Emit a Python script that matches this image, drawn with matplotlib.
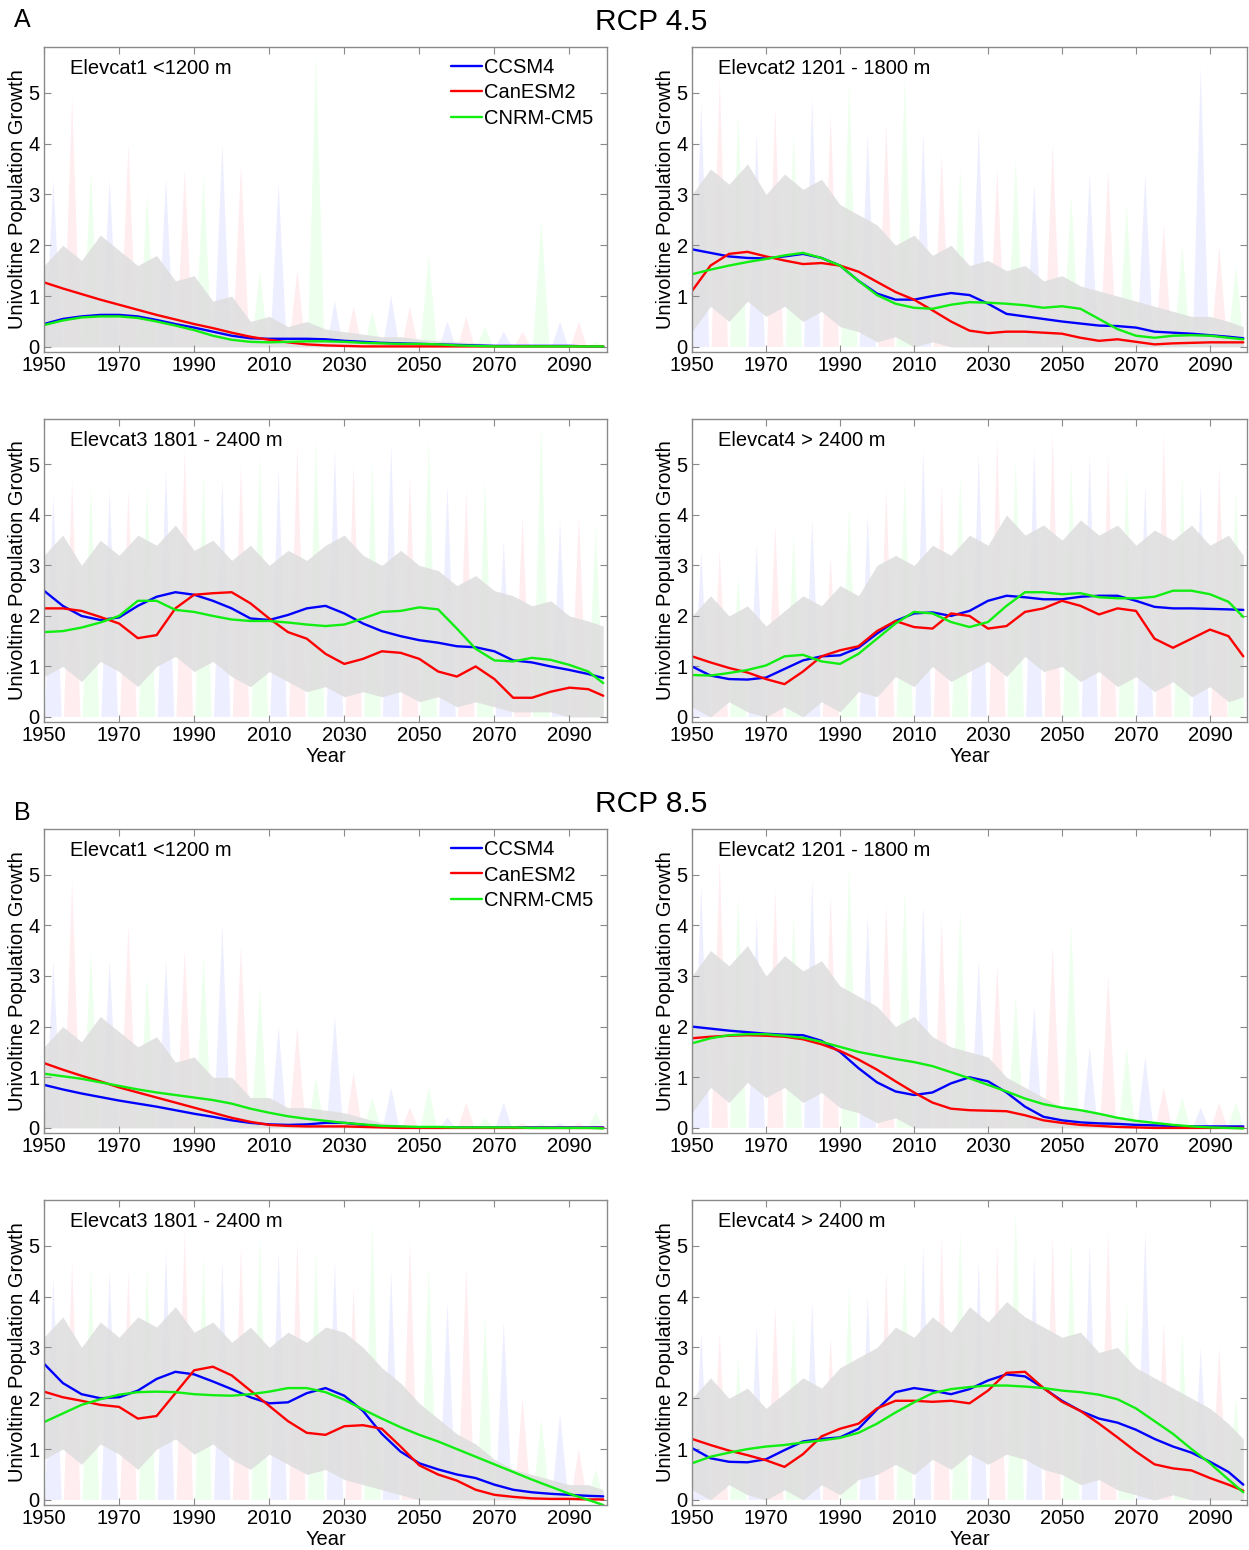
"""Univoltine population growth by elevation class, RCP 4.5 and RCP 8.5."""

import matplotlib

matplotlib.use("Agg")

import matplotlib.pyplot as plt
import numpy as np

plt.rcParams["font.family"] = ["Liberation Sans", "DejaVu Sans"]

# x positions of the smoothed curves / band edges (5-year steps, last year 2099)
years = list(range(1950, 2100, 5)) + [2099]

models = ["CCSM4", "CanESM2", "CNRM-CM5"]
elev_labels = ["Elevcat1 <1200 m", "Elevcat2 1201 - 1800 m",
               "Elevcat3 1801 - 2400 m", "Elevcat4 > 2400 m"]

# ---------------- RCP 4.5 ----------------
a1_ccsm4 = [0.45, 0.55, 0.60, 0.63, 0.63, 0.60, 0.53, 0.45, 0.38, 0.30, 0.22, 0.17, 0.16, 0.16, 0.16, 0.15,
            0.12, 0.10, 0.08, 0.07, 0.06, 0.05, 0.04, 0.03, 0.02, 0.02, 0.02, 0.02, 0.02, 0.01, 0.01]
a1_canesm2 = [1.27, 1.15, 1.04, 0.93, 0.83, 0.73, 0.63, 0.54, 0.45, 0.37, 0.28, 0.20, 0.14, 0.09, 0.05, 0.03,
              0.02, 0.01, 0.01, 0.01, 0.01, 0.01, 0.01, 0.01, 0.01, 0.01, 0.01, 0.01, 0.01, 0.01, 0.01]
a1_cnrm = [0.43, 0.52, 0.58, 0.60, 0.60, 0.57, 0.50, 0.42, 0.33, 0.22, 0.14, 0.10, 0.09, 0.10, 0.11, 0.11,
           0.10, 0.08, 0.07, 0.06, 0.06, 0.05, 0.03, 0.02, 0.01, 0.01, 0.01, 0.01, 0.01, 0.01, 0.01]
a1_hi = [1.6, 2.0, 1.7, 2.2, 1.9, 1.6, 1.8, 1.3, 1.4, 0.9, 1.0, 0.5, 0.6, 0.4, 0.5, 0.35,
         0.3, 0.25, 0.2, 0.2, 0.15, 0.12, 0.1, 0.08, 0.05, 0.05, 0.04, 0.03, 0.03, 0.02, 0.02]
a1_lo = [0.0] * 31
a1_peak = [3.3, 4.9, 3.5, 3.3, 4.0, 3.0, 3.3, 3.5, 3.4, 4.0, 3.6, 1.5, 3.2, 1.5, 5.8,
           0.9, 0.8, 0.7, 1.0, 0.8, 1.8, 0.5, 0.6, 0.4, 0.3, 0.3, 2.5, 0.5, 0.5, 0.1]

a2_ccsm4 = [1.92, 1.85, 1.78, 1.75, 1.74, 1.78, 1.83, 1.75, 1.60, 1.30, 1.05, 0.93, 0.93, 1.00, 1.06, 1.02,
            0.85, 0.65, 0.60, 0.55, 0.50, 0.46, 0.42, 0.41, 0.38, 0.30, 0.28, 0.26, 0.23, 0.20, 0.17]
a2_canesm2 = [1.10, 1.60, 1.83, 1.87, 1.78, 1.70, 1.63, 1.65, 1.60, 1.48, 1.28, 1.08, 0.93, 0.72, 0.50, 0.32,
              0.27, 0.30, 0.30, 0.28, 0.26, 0.18, 0.12, 0.15, 0.10, 0.05, 0.07, 0.08, 0.09, 0.09, 0.09]
a2_cnrm = [1.43, 1.52, 1.60, 1.67, 1.73, 1.80, 1.85, 1.75, 1.60, 1.30, 1.02, 0.85, 0.77, 0.75, 0.83, 0.88,
           0.87, 0.85, 0.82, 0.77, 0.80, 0.75, 0.55, 0.35, 0.22, 0.18, 0.22, 0.23, 0.22, 0.18, 0.15]
a2_hi = [3.0, 3.5, 3.2, 3.6, 3.0, 3.4, 3.1, 3.3, 2.8, 2.6, 2.4, 2.0, 2.2, 1.8, 2.0, 1.6,
         1.7, 1.5, 1.6, 1.3, 1.4, 1.2, 1.1, 1.0, 0.9, 0.8, 0.7, 0.6, 0.6, 0.5, 0.4]
a2_lo = [0.3, 0.8, 0.5, 0.9, 0.6, 0.8, 0.5, 0.7, 0.4, 0.3, 0.1, 0.2, 0.0, 0.1, 0.0, 0.0,
         0.0, 0.0, 0.0, 0.0, 0.0, 0.0, 0.0, 0.0, 0.0, 0.0, 0.0, 0.0, 0.0, 0.0, 0.0]
a2_peak = [4.8, 5.3, 4.6, 4.2, 4.7, 4.2, 4.9, 4.6, 5.2, 4.2, 4.4, 5.3, 4.2, 3.8, 3.5,
           4.3, 3.5, 3.7, 3.2, 4.0, 3.0, 3.4, 3.5, 2.8, 3.4, 2.4, 2.0, 5.5, 2.0, 1.6]

a3_ccsm4 = [2.50, 2.20, 2.00, 1.92, 1.97, 2.20, 2.38, 2.47, 2.42, 2.30, 2.15, 1.95, 1.92, 2.02, 2.15, 2.20,
            2.05, 1.85, 1.70, 1.60, 1.52, 1.47, 1.40, 1.38, 1.30, 1.12, 1.08, 1.00, 0.93, 0.85, 0.77]
a3_canesm2 = [2.15, 2.15, 2.10, 1.98, 1.85, 1.56, 1.62, 2.15, 2.42, 2.45, 2.47, 2.25, 1.95, 1.68, 1.55, 1.25,
              1.05, 1.15, 1.30, 1.27, 1.15, 0.90, 0.80, 1.00, 0.75, 0.38, 0.38, 0.50, 0.58, 0.55, 0.42]
a3_cnrm = [1.68, 1.70, 1.77, 1.87, 2.00, 2.30, 2.30, 2.12, 2.08, 2.00, 1.93, 1.90, 1.90, 1.87, 1.83, 1.80,
           1.83, 1.95, 2.08, 2.10, 2.17, 2.13, 1.75, 1.35, 1.12, 1.10, 1.17, 1.13, 1.03, 0.90, 0.67]
a3_hi = [3.2, 3.6, 3.0, 3.5, 3.2, 3.6, 3.4, 3.8, 3.3, 3.5, 3.1, 3.4, 3.0, 3.3, 3.1, 3.4,
         3.6, 3.2, 3.0, 3.3, 3.0, 2.9, 2.6, 2.8, 2.5, 2.4, 2.2, 2.3, 2.0, 1.9, 1.8]
a3_lo = [0.8, 1.0, 0.7, 1.1, 0.9, 0.6, 1.0, 1.2, 0.9, 1.1, 0.8, 0.6, 0.9, 0.7, 0.5, 0.6,
         0.4, 0.5, 0.4, 0.5, 0.3, 0.4, 0.2, 0.3, 0.2, 0.1, 0.1, 0.1, 0.0, 0.0, 0.0]
a3_peak = [4.4, 4.7, 4.6, 4.5, 4.5, 4.6, 4.9, 5.3, 4.8, 4.7, 5.0, 5.2, 4.9, 5.4, 5.5,
           5.3, 5.0, 5.1, 5.4, 4.8, 5.5, 4.6, 4.5, 4.7, 3.5, 4.0, 5.8, 3.9, 4.0, 3.8]

a4_ccsm4 = [1.00, 0.82, 0.75, 0.74, 0.78, 0.95, 1.12, 1.20, 1.22, 1.37, 1.65, 1.90, 2.05, 2.07, 2.00, 2.10,
            2.30, 2.40, 2.37, 2.33, 2.33, 2.38, 2.40, 2.40, 2.30, 2.18, 2.15, 2.15, 2.14, 2.13, 2.12]
a4_canesm2 = [1.20, 1.08, 0.97, 0.88, 0.75, 0.65, 0.90, 1.20, 1.32, 1.40, 1.70, 1.90, 1.78, 1.75, 2.05, 2.00,
              1.75, 1.80, 2.08, 2.15, 2.30, 2.20, 2.03, 2.15, 2.10, 1.55, 1.37, 1.55, 1.73, 1.60, 1.20]
a4_cnrm = [0.83, 0.82, 0.87, 0.93, 1.02, 1.20, 1.23, 1.10, 1.05, 1.25, 1.55, 1.85, 2.08, 2.05, 1.88, 1.78,
           1.88, 2.20, 2.47, 2.47, 2.43, 2.45, 2.37, 2.35, 2.35, 2.38, 2.50, 2.50, 2.43, 2.28, 1.98]
a4_hi = [2.0, 2.4, 2.0, 2.2, 1.8, 2.1, 2.4, 2.2, 2.6, 2.4, 3.0, 3.2, 3.0, 3.4, 3.2, 3.6,
         3.4, 4.0, 3.6, 3.8, 3.5, 3.9, 3.6, 3.8, 3.4, 3.7, 3.5, 3.8, 3.4, 3.6, 3.2]
a4_lo = [0.2, 0.0, 0.3, 0.1, 0.0, 0.2, 0.0, 0.3, 0.1, 0.5, 0.4, 0.8, 0.6, 1.0, 0.7, 0.9,
         1.1, 0.8, 1.2, 0.9, 1.0, 0.7, 0.9, 0.6, 0.8, 0.5, 0.7, 0.4, 0.6, 0.3, 0.4]
a4_peak = [3.3, 3.3, 2.8, 3.4, 3.8, 3.6, 3.9, 3.2, 4.2, 4.0, 4.5, 4.7, 5.3, 4.6, 4.8,
           5.2, 5.5, 5.1, 5.3, 5.6, 5.0, 5.2, 5.2, 4.9, 4.6, 5.6, 4.8, 4.6, 5.0, 4.5]

# ---------------- RCP 8.5 ----------------
b1_ccsm4 = [0.85, 0.76, 0.68, 0.61, 0.54, 0.48, 0.42, 0.35, 0.28, 0.22, 0.15, 0.10, 0.07, 0.06, 0.07, 0.10,
            0.10, 0.06, 0.03, 0.02, 0.01, 0.01, 0.01, 0.01, 0.01, 0.01, 0.01, 0.01, 0.01, 0.01, 0.01]
b1_canesm2 = [1.28, 1.15, 1.03, 0.92, 0.80, 0.70, 0.60, 0.50, 0.40, 0.30, 0.20, 0.12, 0.06, 0.04, 0.03, 0.03,
              0.03, 0.02, 0.01, 0.00, 0.00, 0.00, 0.00, 0.00, 0.00, 0.00, 0.00, 0.00, 0.00, 0.00, 0.00]
b1_cnrm = [1.07, 1.02, 0.97, 0.90, 0.83, 0.76, 0.70, 0.65, 0.60, 0.55, 0.48, 0.38, 0.30, 0.23, 0.18, 0.14,
           0.10, 0.07, 0.04, 0.03, 0.02, 0.02, 0.01, 0.01, 0.01, 0.01, 0.00, 0.00, 0.00, 0.00, -0.01]
b1_hi = [1.6, 2.0, 1.7, 2.2, 1.9, 1.6, 1.8, 1.3, 1.4, 1.0, 1.0, 0.6, 0.6, 0.4, 0.4, 0.35,
         0.3, 0.2, 0.1, 0.06, 0.04, 0.03, 0.02, 0.02, 0.01, 0.01, 0.01, 0.01, 0.01, 0.01, 0.01]
b1_lo = [0.0] * 31
b1_peak = [3.3, 4.9, 3.5, 3.3, 4.0, 3.0, 3.3, 3.5, 3.4, 4.0, 3.6, 2.8, 2.0, 2.0, 1.0,
           2.2, 1.1, 0.6, 0.8, 0.4, 0.8, 0.2, 0.5, 0.2, 0.5, 0.1, 0.1, 0.1, 0.1, 0.3]

b2_ccsm4 = [2.00, 1.96, 1.92, 1.89, 1.86, 1.84, 1.83, 1.72, 1.50, 1.18, 0.90, 0.72, 0.65, 0.70, 0.88, 1.00,
            0.92, 0.70, 0.42, 0.22, 0.15, 0.11, 0.09, 0.08, 0.06, 0.05, 0.04, 0.03, 0.03, 0.03, 0.03]
b2_canesm2 = [1.77, 1.80, 1.82, 1.83, 1.82, 1.80, 1.75, 1.65, 1.52, 1.35, 1.15, 0.92, 0.70, 0.50, 0.38, 0.35,
              0.34, 0.33, 0.25, 0.15, 0.10, 0.06, 0.04, 0.02, 0.01, 0.00, 0.00, 0.00, 0.00, 0.00, 0.00]
b2_cnrm = [1.67, 1.77, 1.83, 1.85, 1.85, 1.82, 1.78, 1.70, 1.60, 1.50, 1.43, 1.36, 1.30, 1.22, 1.10, 0.98,
           0.85, 0.72, 0.58, 0.47, 0.40, 0.35, 0.28, 0.20, 0.14, 0.10, 0.06, 0.03, 0.01, 0.00, -0.01]
b2_hi = [3.0, 3.5, 3.2, 3.6, 3.0, 3.4, 3.1, 3.3, 2.8, 2.6, 2.4, 2.0, 2.2, 1.8, 1.6, 1.5,
         1.4, 1.0, 0.8, 0.6, 0.4, 0.35, 0.3, 0.2, 0.15, 0.1, 0.08, 0.06, 0.05, 0.04, 0.03]
b2_lo = [0.3, 0.8, 0.5, 0.9, 0.6, 0.8, 0.5, 0.7, 0.4, 0.3, 0.1, 0.2, 0.0, 0.0, 0.0, 0.0,
         0.0, 0.0, 0.0, 0.0, 0.0, 0.0, 0.0, 0.0, 0.0, 0.0, 0.0, 0.0, 0.0, 0.0, 0.0]
b2_peak = [4.8, 5.3, 4.6, 4.2, 4.7, 4.2, 4.9, 4.6, 5.2, 4.2, 4.4, 4.7, 4.4, 4.1, 4.3,
           3.3, 3.2, 2.6, 2.4, 3.6, 4.0, 1.6, 3.0, 1.6, 1.4, 0.8, 0.6, 0.4, 0.5, 0.5]

b3_ccsm4 = [2.68, 2.30, 2.08, 2.00, 2.02, 2.15, 2.38, 2.52, 2.47, 2.33, 2.18, 2.02, 1.90, 1.92, 2.10, 2.20,
            2.05, 1.75, 1.30, 0.95, 0.72, 0.60, 0.50, 0.43, 0.30, 0.20, 0.15, 0.12, 0.10, 0.08, 0.07]
b3_canesm2 = [2.13, 2.02, 1.95, 1.87, 1.83, 1.60, 1.65, 2.10, 2.55, 2.62, 2.45, 2.15, 1.85, 1.55, 1.32, 1.28,
              1.45, 1.47, 1.40, 1.05, 0.68, 0.50, 0.38, 0.20, 0.10, 0.06, 0.03, 0.02, 0.02, 0.01, 0.01]
b3_cnrm = [1.53, 1.70, 1.87, 1.98, 2.07, 2.12, 2.13, 2.12, 2.08, 2.06, 2.05, 2.08, 2.13, 2.20, 2.20, 2.12,
           1.97, 1.78, 1.60, 1.43, 1.28, 1.15, 1.00, 0.85, 0.70, 0.55, 0.40, 0.26, 0.12, 0.00, -0.10]
b3_hi = [3.2, 3.6, 3.0, 3.5, 3.2, 3.6, 3.4, 3.8, 3.3, 3.5, 3.1, 3.4, 3.0, 3.3, 3.1, 3.4,
         3.3, 3.0, 2.6, 2.3, 1.9, 1.6, 1.3, 1.1, 0.8, 0.6, 0.5, 0.4, 0.3, 0.3, 0.2]
b3_lo = [0.8, 1.0, 0.7, 1.1, 0.9, 0.6, 1.0, 1.2, 0.9, 1.1, 0.8, 0.6, 0.9, 0.7, 0.5, 0.6,
         0.4, 0.3, 0.2, 0.1, 0.0, 0.0, 0.0, 0.0, 0.0, 0.0, 0.0, 0.0, 0.0, 0.0, 0.0]
b3_peak = [4.4, 4.7, 4.6, 4.5, 4.5, 4.6, 4.9, 5.3, 4.8, 4.7, 5.0, 5.2, 4.9, 5.1, 4.9,
           4.7, 4.2, 5.5, 4.5, 5.1, 4.6, 3.9, 4.6, 3.6, 3.5, 2.0, 1.6, 1.7, 1.0, 0.6]

b4_ccsm4 = [1.02, 0.82, 0.75, 0.74, 0.80, 0.98, 1.15, 1.20, 1.23, 1.40, 1.78, 2.12, 2.20, 2.15, 2.08, 2.18,
            2.35, 2.47, 2.43, 2.20, 1.95, 1.75, 1.60, 1.52, 1.38, 1.20, 1.05, 0.93, 0.75, 0.55, 0.30]
b4_canesm2 = [1.20, 1.08, 0.97, 0.88, 0.78, 0.65, 0.90, 1.25, 1.40, 1.50, 1.80, 1.95, 1.95, 1.93, 1.95, 1.90,
              2.15, 2.50, 2.52, 2.20, 1.93, 1.75, 1.50, 1.23, 0.95, 0.70, 0.62, 0.58, 0.43, 0.30, 0.18]
b4_cnrm = [0.72, 0.85, 0.93, 1.00, 1.05, 1.08, 1.13, 1.17, 1.22, 1.32, 1.50, 1.72, 1.92, 2.10, 2.18, 2.22,
           2.25, 2.25, 2.23, 2.20, 2.15, 2.12, 2.07, 1.98, 1.80, 1.55, 1.30, 1.00, 0.72, 0.40, 0.15]
b4_hi = [2.0, 2.4, 2.0, 2.2, 1.8, 2.1, 2.4, 2.2, 2.6, 2.8, 3.0, 3.4, 3.2, 3.6, 3.3, 3.8,
         3.5, 3.9, 3.6, 3.4, 3.2, 3.3, 2.9, 3.0, 2.6, 2.4, 2.2, 2.0, 1.8, 1.5, 1.2]
b4_lo = [0.2, 0.0, 0.3, 0.1, 0.0, 0.2, 0.0, 0.3, 0.1, 0.4, 0.5, 0.7, 0.5, 0.8, 0.6, 0.9,
         0.7, 0.9, 0.8, 0.6, 0.5, 0.3, 0.4, 0.2, 0.1, 0.0, 0.1, 0.0, 0.0, 0.0, 0.0]
b4_peak = [3.3, 3.3, 2.8, 3.4, 3.8, 3.6, 3.9, 3.2, 4.2, 4.0, 4.5, 4.7, 5.0, 5.2, 5.3,
           4.7, 5.0, 5.7, 4.8, 5.2, 5.1, 5.0, 5.3, 3.9, 5.3, 3.5, 3.3, 3.0, 3.0, 2.0]

rcp45 = [
    (a1_ccsm4, a1_canesm2, a1_cnrm, a1_lo, a1_hi, a1_peak),
    (a2_ccsm4, a2_canesm2, a2_cnrm, a2_lo, a2_hi, a2_peak),
    (a3_ccsm4, a3_canesm2, a3_cnrm, a3_lo, a3_hi, a3_peak),
    (a4_ccsm4, a4_canesm2, a4_cnrm, a4_lo, a4_hi, a4_peak),
]
rcp85 = [
    (b1_ccsm4, b1_canesm2, b1_cnrm, b1_lo, b1_hi, b1_peak),
    (b2_ccsm4, b2_canesm2, b2_cnrm, b2_lo, b2_hi, b2_peak),
    (b3_ccsm4, b3_canesm2, b3_cnrm, b3_lo, b3_hi, b3_peak),
    (b4_ccsm4, b4_canesm2, b4_cnrm, b4_lo, b4_hi, b4_peak),
]

line_colors = ["#0000ff", "#ff0000", "#11ee11"]
pastel = ["#c4c8ff", "#ffc4ce", "#c4ffc4"]
band_gray = "#dfdfdf"
frame_gray = "#8a8a8a"

W, H = 1249, 1550
fig = plt.figure(figsize=(W / 100, H / 100), dpi=100)


def px_axes(left, top, right, bottom):
    return fig.add_axes([left / W, 1 - bottom / H, (right - left) / W, (bottom - top) / H])


def draw_panel(ax, panel, label, show_legend, show_xlabel):
    ccsm4, canesm2, cnrm, lo, hi, peak = panel
    yrs = np.asarray(years, dtype=float)
    mids = (yrs[:-1] + yrs[1:]) / 2

    # faint annual spikes of the individual model runs
    for i, (xm, pk) in enumerate(zip(mids, peak)):
        ax.fill([xm - 2.2, xm, xm + 2.2], [0, pk, 0], color=pastel[i % 3], alpha=0.3, lw=0)
    # overlap band of the three runs
    ax.fill_between(yrs, lo, hi, color=band_gray, lw=0, alpha=0.9)

    for series, c, name in zip((ccsm4, canesm2, cnrm), line_colors, models):
        ax.plot(years, series, color=c, lw=1.7, label=name, solid_capstyle="round")

    ax.set_xlim(1950, 2100)
    ax.set_ylim(-0.1, 5.9)
    ax.set_xticks(range(1950, 2091, 20))
    ax.set_yticks(range(0, 6))
    ax.tick_params(direction="in", top=True, right=True, length=5, width=0.8,
                   color=frame_gray, labelsize=14.5, pad=3)
    for sp in ax.spines.values():
        sp.set_color(frame_gray)
        sp.set_linewidth(1.0)
    ax.set_ylabel("Univoltine Population Growth", fontsize=14.5, labelpad=1)
    if show_xlabel:
        ax.set_xlabel("Year", fontsize=14.5, labelpad=1)
    ax.text(0.047, 0.93, label, transform=ax.transAxes, fontsize=14.5, va="center", ha="left")
    if show_legend:
        ax.legend(loc="upper right", bbox_to_anchor=(1.0, 1.01), frameon=False, fontsize=14.5,
                  handlelength=1.5, handletextpad=0.1, labelspacing=0.32, borderaxespad=0.3)


xs = [(44, 607), (692, 1247)]
rows_a = [(47, 352), (419, 722)]
rows_b = [(829, 1133), (1200, 1505)]

for group, rows in ((rcp45, rows_a), (rcp85, rows_b)):
    for i, panel in enumerate(group):
        r, c = divmod(i, 2)
        ax = px_axes(xs[c][0], rows[r][0], xs[c][1], rows[r][1])
        draw_panel(ax, panel, elev_labels[i], show_legend=(i == 0), show_xlabel=(r == 1))

fig.text(22 / W, 1 - 20 / H, "A", fontsize=18, ha="center", va="center")
fig.text(651 / W, 1 - 22 / H, "RCP 4.5", fontsize=21.5, ha="center", va="center")
fig.text(22 / W, 1 - 813 / H, "B", fontsize=18, ha="center", va="center")
fig.text(651 / W, 1 - 804 / H, "RCP 8.5", fontsize=21.5, ha="center", va="center")

fig.savefig("out.png", dpi=100)
plt.close(fig)
